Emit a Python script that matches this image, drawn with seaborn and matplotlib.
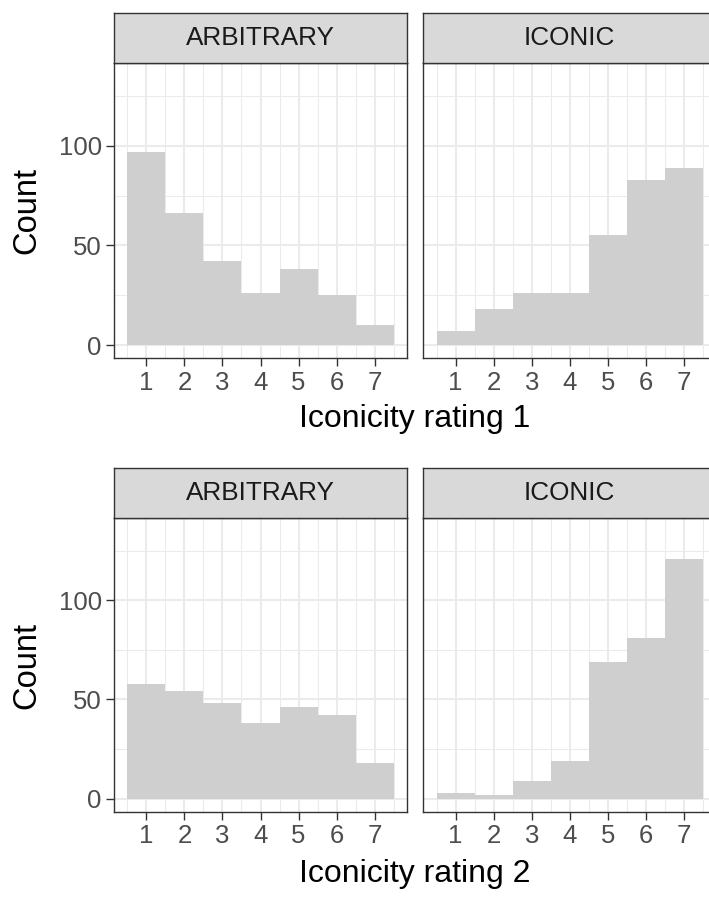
import numpy as np
import pandas as pd
import matplotlib
matplotlib.use("Agg")
import matplotlib.pyplot as plt
import seaborn as sns

# Counts of items per iconicity rating, split by word type
ratings = [1, 2, 3, 4, 5, 6, 7]
arbitrary_r1 = [97, 66, 42, 26, 38, 25, 10]
iconic_r1 = [7, 18, 26, 26, 55, 83, 89]
arbitrary_r2 = [58, 54, 48, 38, 46, 42, 18]
iconic_r2 = [3, 2, 9, 19, 69, 81, 121]

panel_titles = ["ARBITRARY", "ICONIC"]
x_titles = ["Iconicity rating 1", "Iconicity rating 2"]
y_title = "Count"
y_ticks = [0, 50, 100]

rows = []
for rating_name, arb, ico in [("1", arbitrary_r1, iconic_r1), ("2", arbitrary_r2, iconic_r2)]:
    for r, a, i in zip(ratings, arb, ico):
        rows.append({"set": rating_name, "type": "ARBITRARY", "rating": r, "n": a})
        rows.append({"set": rating_name, "type": "ICONIC", "rating": r, "n": i})
df = pd.DataFrame(rows)

sns.set_theme(style="white")
plt.rcParams["font.family"] = ["Liberation Sans", "DejaVu Sans"]

W, H = 709, 897
fig = plt.figure(figsize=(W / 100, H / 100), dpi=100)
fig.patch.set_facecolor("white")

BAR = "#CFCFCF"
GRID = "#EBEBEB"
DARK = "#333333"
TICKTXT = "#4D4D4D"

panel_w = 293
lefts = [114, 423.3]
row_tops = [(13.3, 63.3, 358.3), (468.3, 518.3, 811.7)]
xlabel_y = [419, 874]


def fx(px):
    return px / W


def fy(py):
    return 1 - py / H


for ri, (rset, (s_top, p_top, p_bot)) in enumerate(zip(["1", "2"], row_tops)):
    for ci, ptype in enumerate(panel_titles):
        left = lefts[ci]
        ax = fig.add_axes([fx(left), fy(p_bot), panel_w / W, (p_bot - p_top) / H])
        sub = df[(df["set"] == rset) & (df["type"] == ptype)]
        sns.histplot(data=sub, x="rating", weights="n", discrete=True,
                     color=BAR, alpha=1, linewidth=0, edgecolor=None, ax=ax)
        ax.set_xlim(0.15, 7.85)
        ax.set_ylim(-6.6, 141.3)
        ax.set_xticks(ratings)
        ax.set_xticks([r + 0.5 for r in [0] + ratings], minor=True)
        ax.set_yticks(y_ticks)
        ax.set_yticks([25, 75, 125], minor=True)
        ax.set_axisbelow(True)
        ax.grid(which="major", color=GRID, linewidth=1.5)
        ax.grid(which="minor", color=GRID, linewidth=0.75)
        ax.set_facecolor("white")
        for sp in ax.spines.values():
            sp.set_visible(True)
            sp.set_color(DARK)
            sp.set_linewidth(1.0)
        ax.set_xlabel("")
        ax.set_ylabel("")
        ax.tick_params(axis="x", which="major", length=5.8, width=1.0, color=DARK,
                       labelsize=18.5, labelcolor=TICKTXT, pad=3.0, bottom=True)
        ax.tick_params(which="minor", length=0)
        if ci == 0:
            ax.tick_params(axis="y", which="major", length=5.8, width=1.0, color=DARK,
                           labelsize=18.5, labelcolor=TICKTXT, pad=3, left=True)
        else:
            ax.tick_params(axis="y", which="major", length=0, labelleft=False)

        # facet strip
        sax = fig.add_axes([fx(left), fy(p_top), panel_w / W, (p_top - s_top) / H])
        sax.set_facecolor("#D9D9D9")
        sax.set_xticks([])
        sax.set_yticks([])
        for sp in sax.spines.values():
            sp.set_visible(True)
            sp.set_color(DARK)
            sp.set_linewidth(1.0)
        sax.text(0.5, 0.5, ptype, ha="center", va="center", fontsize=18.8,
                 color="#1A1A1A", transform=sax.transAxes)

    fig.text(fx(27), fy((p_top + p_bot) / 2), y_title, rotation=90,
             ha="center", va="center", fontsize=23.5, color="black")
    fig.text(fx((lefts[0] + lefts[1] + panel_w) / 2), fy(xlabel_y[ri]), x_titles[ri],
             ha="center", va="center", fontsize=23, color="black")

fig.savefig("out.png", dpi=100, facecolor="white")
